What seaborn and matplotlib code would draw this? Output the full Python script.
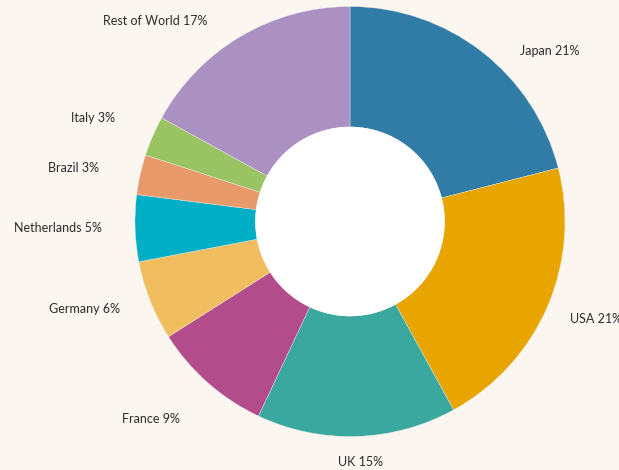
import matplotlib
matplotlib.use("Agg")
import matplotlib.pyplot as plt
import seaborn as sns

# Share of total, clockwise from 12 o'clock
countries = ["Japan", "USA", "UK", "France", "Germany", "Netherlands",
             "Brazil", "Italy", "Rest of World"]
shares = [21, 21, 15, 9, 6, 5, 3, 3, 17]
colors = ["#317ca6", "#e8a500", "#3aa89f", "#b24c8b", "#f0be5e",
          "#00aec5", "#e99a6a", "#9ac463", "#ab91c1"]

BG = "#fbf6f0"

sns.set_theme(style="white")
plt.rcParams["font.family"] = ["Lato", "DejaVu Sans"]

W, H = 619, 470
fig = plt.figure(figsize=(W / 100, H / 100), dpi=100, facecolor=BG)
ax = fig.add_axes([0, 0, 1, 1])
ax.set_facecolor(BG)

palette = sns.color_palette(colors)
wedges, _ = ax.pie(
    shares,
    colors=palette,
    startangle=90,
    counterclock=False,
    radius=1.0,
    wedgeprops=dict(width=0.56, edgecolor="#f4f4f4", linewidth=0.25),
)
ax.add_patch(plt.Circle((0, 0), 0.44, facecolor="white", edgecolor="none", zorder=3))

# Label anchor points (data units, pie radius = 1)
label_xy = [
    (0.930, 0.795),
    (1.145, -0.453),
    (0.049, -1.117),
    (-0.926, -0.919),
    (-1.233, -0.407),
    (-1.360, -0.030),
    (-1.286, 0.249),
    (-1.195, 0.481),
    (-0.907, 0.932),
]
for name, val, (x, y) in zip(countries, shares, label_xy):
    ax.text(x, y, f"{name} {val}%", ha="center", va="center",
            fontsize=9, color="#2b2b2b")

# Scale: 215 px per unit, centre at pixel (350, 221.5)
scale = 215.0
cx, cy = 350.0, 221.5
ax.set_xlim(-cx / scale, (W - cx) / scale)
ax.set_ylim(-(H - cy) / scale, cy / scale)
ax.set_aspect("auto")
ax.axis("off")

fig.savefig("out.png", dpi=100, facecolor=BG)
